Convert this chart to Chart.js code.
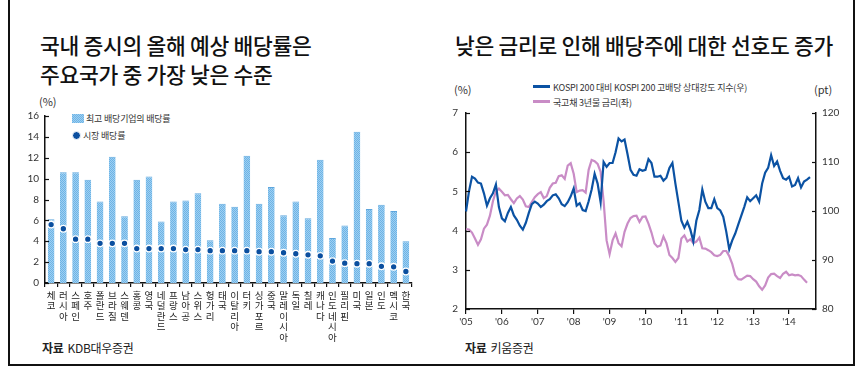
<!DOCTYPE html>
<html>
<head>
<meta charset="utf-8">
<script src="https://cdn.jsdelivr.net/npm/chart.js@4.4.1/dist/chart.umd.min.js"></script>
<style>
  body { margin: 0; width: 860px; height: 371px; background: #fff; overflow: hidden;
         font-family: "Noto Sans CJK KR", "Noto Sans", sans-serif; color: #111; }
  .abs { position: absolute; white-space: nowrap; }
  #frame { position: absolute; left: 8px; top: -2px; width: 843px; height: 366px;
           border: 2px solid #111; border-top: none; }
  .title { font-size: 21.5px; font-weight: 500; letter-spacing: -0.3px; line-height: 29px; }
  .unit { font-size: 11px; color: #333; }
  .leg { font-size: 9px; color: #333; letter-spacing: -0.2px; }
  .src { font-size: 12px; color: #222; letter-spacing: -0.3px; }
  .src b { font-weight: 700; margin-right: 4px; }
</style>
</head>
<body>
<div id="frame"></div>

<div class="abs title" style="left:40px;top:30px">국내 증시의 올해 예상 배당률은<br>주요국가 중 가장 낮은 수준</div>
<div class="abs title" style="left:455px;top:30px">낮은 금리로 인해 배당주에 대한 선호도 증가</div>

<div class="abs unit" style="left:39px;top:93px">(%)</div>
<div class="abs leg" style="left:72px;top:112px"><span id="legBox" style="display:inline-block;width:12px;height:9px;vertical-align:-1px;margin-right:2px"></span>최고 배당기업의 배당률</div>
<div class="abs leg" style="left:72px;top:129px"><span style="display:inline-block;width:7px;height:7px;border-radius:50%;background:#0b4f9f;border:1px solid #fff;vertical-align:-1px;margin-right:2px"></span>시장 배당률</div>

<div class="abs unit" style="left:454px;top:81px">(%)</div>
<div class="abs unit" style="left:814px;top:81px">(pt)</div>
<div class="abs leg" style="left:533px;top:81px"><span style="display:inline-block;width:17px;height:3px;background:#0b52a3;vertical-align:3px;margin-right:3px"></span>KOSPI 200 대비 KOSPI 200 고배당 상대강도 지수(우)</div>
<div class="abs leg" style="left:533px;top:96px"><span style="display:inline-block;width:17px;height:3px;background:#c98cc6;vertical-align:3px;margin-right:3px"></span>국고채 3년물 금리(좌)</div>

<div class="abs src" style="left:42px;top:339px"><b>자료</b>KDB대우증권</div>
<div class="abs src" style="left:465px;top:339px"><b>자료</b>키움증권</div>

<canvas id="left" class="abs" style="left:0px;top:90px" width="425" height="255"></canvas>
<canvas id="right" class="abs" style="left:425px;top:70px" width="435" height="275"></canvas>

<script>
// 국가별 배당률 (%)
const countries = ["체코", "러시아", "스페인", "호주", "폴란드", "브라질", "스웨덴", "홍콩", "영국", "네덜란드",
  "프랑스", "남아공", "스위스", "헝가리", "태국", "이탈리아", "터키", "싱가포르", "중국", "말레이시아",
  "독일", "칠레", "캐나다", "인도네시아", "필리핀", "미국", "일본", "인도", "멕시코", "한국"];
const topDividend = [6.1, 10.6, 10.6, 9.9, 7.8, 12.1, 6.4, 9.9, 10.2, 5.9,
  7.8, 7.9, 8.6, 4.1, 7.6, 7.3, 12.2, 7.6, 9.2, 6.5,
  7.8, 6.2, 11.8, 4.3, 5.5, 14.5, 7.1, 7.5, 6.9, 4.0];
const marketDividend = [5.6, 5.2, 4.2, 4.2, 3.8, 3.8, 3.8, 3.3, 3.3, 3.3,
  3.3, 3.2, 3.2, 3.1, 3.1, 3.1, 3.1, 3.0, 3.0, 2.9,
  2.8, 2.7, 2.6, 2.1, 1.9, 1.85, 1.85, 1.6, 1.55, 1.1];

// 월별 시계열 2005.01 ~
const years = [2005, 2006, 2007, 2008, 2009, 2010, 2011, 2012, 2013, 2014];
const relStrength = [ // KOSPI 200 대비 고배당 상대강도 지수 (pt)
  99.9, 104.0, 107.0, 106.6, 105.8, 105.6, 103.6, 101.1, 102.6, 103.6, 105.4, 100.8,
  98.5, 97.9, 99.6, 100.8, 99.1, 98.2, 97.0, 96.2, 97.6, 99.6, 101.4, 101.9,
  101.5, 100.8, 101.3, 102.0, 102.4, 103.2, 103.4, 102.6, 101.4, 101.0, 101.8, 103.0,
  104.6, 101.1, 101.6, 100.2, 100.0, 102.0, 104.4, 107.6, 105.6, 101.8, 110.0, 109.0,
  109.8, 109.8, 112.0, 114.8, 114.2, 114.6, 111.6, 108.4, 107.4, 107.2, 108.5, 108.2,
  108.4, 110.6, 109.8, 107.0, 107.0, 107.2, 106.2, 106.8, 108.8, 109.8, 105.6, 101.8,
  98.0, 96.6, 97.8, 96.2, 93.8, 98.0, 100.2, 104.4, 101.9, 100.6, 100.6, 102.4,
  100.6, 100.1, 98.8, 95.8, 92.2, 94.0, 95.4, 97.2, 99.0, 100.8, 102.8, 102.0,
  102.6, 103.2, 101.9, 105.6, 107.8, 108.8, 111.4, 109.2, 110.1, 108.2, 106.7, 106.4,
  107.0, 105.0, 105.3, 106.7, 104.8, 106.0, 106.4, 106.9];
const bondYield = [ // 국고채 3년물 금리 (%)
  4.04, 4.03, 3.95, 3.80, 3.64, 3.78, 4.05, 4.15, 4.38, 4.75, 5.00, 5.07,
  4.99, 4.90, 4.91, 4.80, 4.70, 4.82, 4.88, 4.79, 4.62, 4.60, 4.73, 4.85,
  4.93, 4.98, 4.83, 4.88, 5.09, 5.20, 5.22, 5.39, 5.41, 5.32, 5.66, 5.72,
  5.45, 4.98, 5.02, 5.03, 4.97, 5.55, 5.80, 5.77, 5.70, 5.50, 4.75, 3.75,
  3.40, 3.75, 3.93, 3.68, 3.60, 3.97, 4.18, 4.32, 4.37, 4.38, 4.22, 4.35,
  4.36, 4.18, 3.95, 3.67, 3.59, 3.62, 3.85, 3.68, 3.38, 3.30, 3.20, 3.30,
  3.80, 3.88, 3.72, 3.78, 3.68, 3.72, 3.82, 3.55, 3.54, 3.50, 3.45, 3.37,
  3.35, 3.38, 3.48, 3.48, 3.35, 3.15, 2.86, 2.76, 2.75, 2.80, 2.85, 2.84,
  2.76, 2.70, 2.58, 2.49, 2.60, 2.80, 2.89, 2.90, 2.84, 2.79, 2.90, 2.95,
  2.86, 2.88, 2.86, 2.87, 2.84, 2.75, 2.67];

// 막대 무늬
function dotPattern() {
  const c = document.createElement("canvas");
  c.width = 2; c.height = 2;
  const g = c.getContext("2d");
  g.fillStyle = "#9fd0f1"; g.fillRect(0, 0, 2, 2);
  g.fillStyle = "#6db3e6"; g.fillRect(0, 0, 1, 1); g.fillRect(1, 1, 1, 1);
  return c;
}
const patCanvas = dotPattern();
document.getElementById("legBox").style.background = "url(" + patCanvas.toDataURL() + ")";

// 축 안쪽 눈금
const innerTicks = {
  id: "innerTicks",
  afterDatasetsDraw(chart, args, opts) {
    const ctx = chart.ctx;
    ctx.save();
    ctx.strokeStyle = "#111";
    ctx.lineWidth = 1.2;
    (opts.axes || []).forEach(function (id) {
      const s = chart.scales[id];
      s.ticks.forEach(function (t, i) {
        const p = Math.round(s.getPixelForTick(i)) + 0.5;
        ctx.beginPath();
        if (s.position === "left") { ctx.moveTo(s.right, p); ctx.lineTo(s.right + 4, p); }
        else { ctx.moveTo(s.left, p); ctx.lineTo(s.left - 4, p); }
        ctx.stroke();
      });
    });
    ctx.restore();
  }
};

const tickFont = { family: "Lato, 'Noto Sans', sans-serif", size: 10 };

const lctx = document.getElementById("left").getContext("2d");
new Chart(lctx, {
  data: {
    labels: countries.map(function (c) { return c.split(""); }),
    datasets: [
      {
        type: "line",
        label: "시장 배당률",
        data: marketDividend,
        showLine: false,
        pointRadius: 3.3,
        pointBackgroundColor: "#0b4f9f",
        pointBorderColor: "#ffffff",
        pointBorderWidth: 1.3,
        order: 0
      },
      {
        type: "bar",
        label: "최고 배당기업의 배당률",
        data: topDividend,
        backgroundColor: lctx.createPattern(patCanvas, "repeat"),
        borderColor: "#5ea6dd",
        borderWidth: { top: 1, left: 0, right: 0, bottom: 0 },
        borderSkipped: "bottom",
        barPercentage: 0.55,
        categoryPercentage: 1,
        order: 1
      }
    ]
  },
  options: {
    responsive: false,
    animation: false,
    layout: { padding: { top: 26, right: 13, left: 0, bottom: 0 } },
    plugins: { legend: { display: false }, tooltip: { enabled: false }, innerTicks: { axes: ["y"] } },
    scales: {
      x: {
        type: "category",
        offset: true,
        grid: { display: true, drawOnChartArea: false, offset: true, tickLength: 4, color: "#111", lineWidth: 1.2 },
        border: { display: true, color: "#111", width: 1.5 },
        ticks: { color: "#222", font: { family: "'Noto Sans CJK KR', sans-serif", size: 9.5, lineHeight: 1.1 },
                 maxRotation: 0, minRotation: 0, autoSkip: false, padding: 3 },
        afterFit: function (s) { s.height = 62; }
      },
      y: {
        min: 0, max: 16,
        ticks: { stepSize: 2, color: "#333", font: tickFont, padding: 6 },
        grid: { display: false, drawTicks: false },
        border: { display: true, color: "#111", width: 1.5 },
        afterFit: function (s) { s.width = 45; }
      }
    }
  },
  plugins: [innerTicks]
});

const months = [];
years.forEach(function (y) {
  for (let m = 1; m <= 12; m++) months.push(y + "-" + m);
});
const monthLabels = months.slice(0, 118);

new Chart(document.getElementById("right"), {
  type: "line",
  data: {
    labels: monthLabels,
    datasets: [
      {
        label: "KOSPI 200 대비 KOSPI 200 고배당 상대강도 지수(우)",
        data: relStrength,
        yAxisID: "y2",
        borderColor: "#0b52a3",
        borderWidth: 2.2,
        pointRadius: 0,
        tension: 0
      },
      {
        label: "국고채 3년물 금리(좌)",
        data: bondYield,
        yAxisID: "y",
        borderColor: "#c98cc6",
        borderWidth: 2.2,
        pointRadius: 0,
        tension: 0
      }
    ]
  },
  options: {
    responsive: false,
    animation: false,
    layout: { padding: { top: 43, left: 0, right: 0, bottom: 0 } },
    plugins: { legend: { display: false }, tooltip: { enabled: false }, innerTicks: { axes: ["y", "y2"] } },
    scales: {
      x: {
        type: "category",
        offset: false,
        grid: { display: true, drawOnChartArea: false, tickLength: 5, color: "#111", lineWidth: 1.2 },
        border: { display: true, color: "#111", width: 1.5 },
        ticks: {
          autoSkip: false, maxRotation: 0, color: "#333", font: tickFont, padding: 2,
          callback: function (v, i) {
            const p = monthLabels[i].split("-");
            return p[1] === "1" ? "'" + p[0].slice(2) : null;
          }
        },
        afterFit: function (s) { s.height = 36; }
      },
      y: {
        position: "left",
        min: 2, max: 7,
        ticks: { stepSize: 1, color: "#333", font: tickFont, padding: 8 },
        grid: { display: false, drawTicks: false },
        border: { display: true, color: "#111", width: 1.5 },
        afterFit: function (s) { s.width = 41; }
      },
      y2: {
        position: "right",
        min: 80, max: 120,
        ticks: { stepSize: 10, color: "#333", font: tickFont, padding: 6 },
        grid: { display: false, drawTicks: false },
        border: { display: true, color: "#111", width: 1.5 },
        afterFit: function (s) { s.width = 44; }
      }
    }
  },
  plugins: [innerTicks]
});
</script>
</body>
</html>
